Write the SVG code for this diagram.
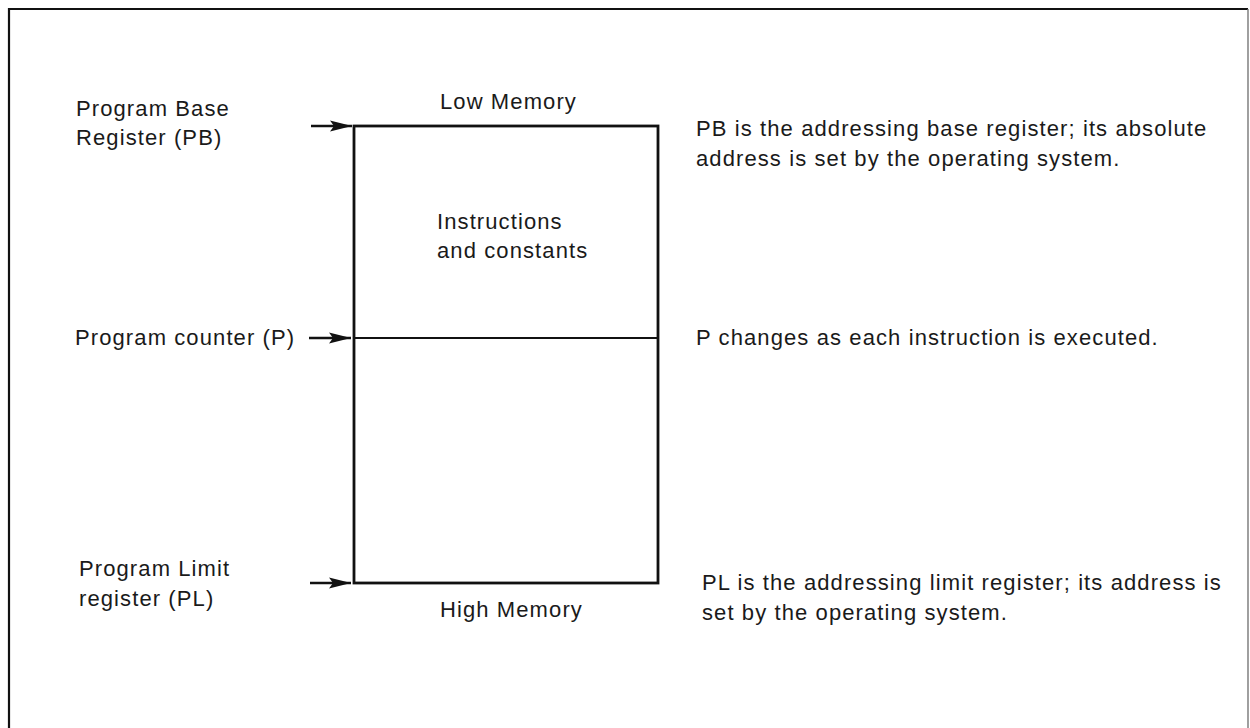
<svg xmlns="http://www.w3.org/2000/svg" width="1250" height="728" viewBox="0 0 1250 728">
  <defs>
    <marker id="arrowhead" viewBox="0 0 22 12" refX="22" refY="6" markerWidth="22" markerHeight="12" markerUnits="userSpaceOnUse" orient="auto">
      <path d="M0,0.5 L22,6 L0,11.5 L4,6 Z" fill="#111"/>
    </marker>
  </defs>
  <style>
    text { font-family: "Liberation Sans", Arial, Helvetica, sans-serif; font-size: 22px; fill: #1a1a1a; letter-spacing: 1.1px; }
    .frame { fill: none; stroke: #111; stroke-width: 2.2; }
    .frame-right { fill: none; stroke: #777; stroke-width: 1.4; }
    .memory { fill: #fff; stroke: #111; stroke-width: 2.8; }
    .divider { stroke: #111; stroke-width: 1.8; }
    .pointer { stroke: #111; stroke-width: 2.6; fill: none; marker-end: url(#arrowhead); }
  </style>

  <rect width="1250" height="728" fill="#fff"/>

  <!-- outer figure border, open at the bottom -->
  <g id="figure-frame">
    <path class="frame" d="M9,728 L9,9 L1248,9"/>
    <path class="frame-right" d="M1248,9 L1248,728"/>
  </g>

  <!-- program memory area -->
  <g id="memory-area">
    <rect class="memory" x="354" y="126" width="304" height="457"/>
    <line class="divider" x1="354" y1="338" x2="658" y2="338"/>
    <text x="440" y="109">Low Memory</text>
    <text x="437" y="229">Instructions</text>
    <text x="437" y="258">and constants</text>
    <text x="440" y="617">High Memory</text>
  </g>

  <!-- register labels -->
  <g id="pb-register">
    <text x="76" y="116">Program Base</text>
    <text x="76" y="145">Register (PB)</text>
  </g>
  <g id="p-register">
    <text x="75" y="345">Program counter (P)</text>
  </g>
  <g id="pl-register">
    <text x="79" y="576">Program Limit</text>
    <text x="79" y="606">register (PL)</text>
  </g>

  <!-- notes on the right -->
  <g id="pb-note">
    <text x="696" y="136">PB is the addressing base register; its absolute</text>
    <text x="696" y="166">address is set by the operating system.</text>
  </g>
  <g id="p-note">
    <text x="696" y="345">P changes as each instruction is executed.</text>
  </g>
  <g id="pl-note">
    <text x="702" y="590">PL is the addressing limit register; its address is</text>
    <text x="702" y="620">set by the operating system.</text>
  </g>

  <!-- pointers into the memory area -->
  <g id="connectors">
    <line class="pointer" x1="311" y1="126" x2="352" y2="126"/>
    <line class="pointer" x1="309" y1="338" x2="351" y2="338"/>
    <line class="pointer" x1="310" y1="583" x2="351" y2="583"/>
  </g>
</svg>
